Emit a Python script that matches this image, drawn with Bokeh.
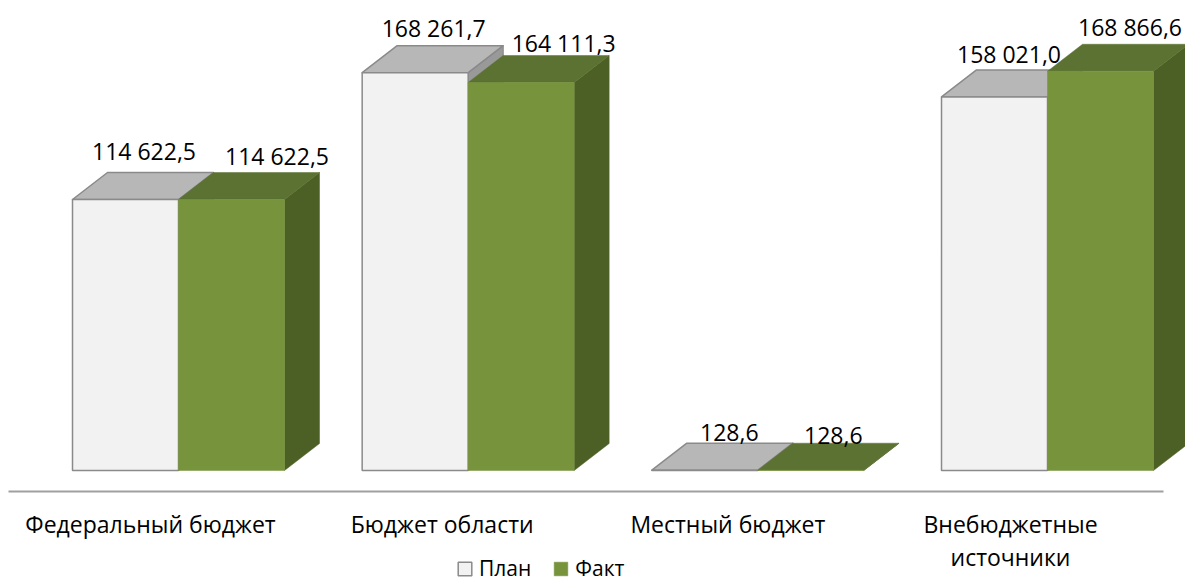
import numpy as np
from bokeh.plotting import figure
from bokeh.models import ColumnDataSource, Range1d, Legend, LegendItem
from bokeh.core.properties import value
from bokeh.embed import file_html
from bokeh.resources import INLINE

# ---------------- data ----------------
categories = ["Федеральный бюджет", "Бюджет области", "Местный бюджет", "Внебюджетные\nисточники"]
plan = [114622.5, 168261.7, 128.6, 158021.0]
fact = [114622.5, 164111.3, 128.6, 168866.6]
plan_labels = ["114 622,5", "168 261,7", "128,6", "158 021,0"]
fact_labels = ["114 622,5", "164 111,3", "128,6", "168 866,6"]

# ---------------- layout (pixels) ----------------
W_PX, H_PX = 1185, 582
CAT_PX = 289.67          # px between categories
CENTER0_PX = 178         # px of first category centre from the left of the frame
BASE_PX = 112            # px of the bar base above the bottom of the frame
UNITS_PER_PX = 422.96    # value units per vertical px
BAR_PX = 106
DEPTH_X_PX, DEPTH_Y_PX = 35, 27
FONT = "Open Sans"

x_start = -CENTER0_PX / CAT_PX
x_end = x_start + W_PX / CAT_PX
y_start = -BASE_PX * UNITS_PER_PX
y_end = y_start + H_PX * UNITS_PER_PX

W = BAR_PX / CAT_PX
DX = DEPTH_X_PX / CAT_PX
DY = DEPTH_Y_PX * UNITS_PER_PX

p = figure(width=W_PX, height=H_PX, x_range=Range1d(x_start, x_end), y_range=Range1d(y_start, y_end),
           output_backend="svg", toolbar_location=None, x_axis_type=None, y_axis_type=None,
           min_border=0, outline_line_color=None, background_fill_color="white")

idx = np.arange(len(categories), dtype=float)
plan_v = np.array(plan)
fact_v = np.array(fact)

def top_face(l, r, v):
    xs = [[a, b, b + DX, a + DX] for a, b in zip(l, r)]
    ys = [[h, h, h + DY, h + DY] for h in v]
    return xs, ys

def side_face(r, v):
    xs = [[b, b + DX, b + DX, b] for b in r]
    ys = [[0, DY, h + DY, h] for h in v]
    return xs, ys

PLAN_FRONT, PLAN_TOP, PLAN_SIDE, PLAN_LINE = "#F2F2F2", "#B7B7B7", "#999999", "#8A8A8A"
FACT_FRONT, FACT_TOP, FACT_SIDE = "#77933C", "#5B7232", "#4C6026"

pl, pr = idx - W, idx
fl, fr = idx, idx + W

# axis / floor line
AXIS_DROP_PX = 21
AXIS_START_PX, AXIS_END_PX = 8, 1163
p.segment(x0=[(AXIS_START_PX - CENTER0_PX) / CAT_PX], y0=[-AXIS_DROP_PX * UNITS_PER_PX],
          x1=[(AXIS_END_PX - CENTER0_PX) / CAT_PX], y1=[-AXIS_DROP_PX * UNITS_PER_PX],
          line_color="#A0A0A0", line_width=2)

# plan bars
xs, ys = side_face(pr, plan_v)
p.patches(xs, ys, fill_color=PLAN_SIDE, line_color=PLAN_LINE, line_width=1.2, line_join="round")
xs, ys = top_face(pl, pr, plan_v)
p.patches(xs, ys, fill_color=PLAN_TOP, line_color=PLAN_LINE, line_width=1.5, line_join="round")
plan_front = p.quad(left=pl, right=pr, bottom=0, top=plan_v, fill_color=PLAN_FRONT,
                    line_color=PLAN_LINE, line_width=1.5)

# fact bars
xs, ys = side_face(fr, fact_v)
p.patches(xs, ys, fill_color=FACT_SIDE, line_color=FACT_SIDE, line_width=0.5)
xs, ys = top_face(fl, fr, fact_v)
p.patches(xs, ys, fill_color=FACT_TOP, line_color=FACT_TOP, line_width=0.5)
fact_front = p.quad(left=fl, right=fr, bottom=0, top=fact_v, fill_color=FACT_FRONT,
                    line_color=FACT_FRONT, line_width=0.5)

# value labels (top face centre + small pixel nudges)
plan_dx = [1, 1, 7, -3]
plan_dy = [-21, -18, -11, -16]
fact_dx = [28, 25, 5, 12]
fact_dy = [-16, -12, -8, -17]
lab_src = ColumnDataSource(dict(
    x=list(pl + W / 2 + DX / 2) + list(fl + W / 2 + DX / 2),
    y=list(plan_v + DY) + list(fact_v + DY),
    t=plan_labels + fact_labels,
    xo=plan_dx + fact_dx,
    yo=plan_dy + fact_dy,
))
p.text(x="x", y="y", text="t", x_offset="xo", y_offset="yo", source=lab_src,
       text_font=value(FONT), text_font_size="23px", text_color="#000000",
       text_align="center", text_baseline="middle")

# category labels
cat_dx = [-28, -26, -30, -37]
cat_src = ColumnDataSource(dict(x=idx, y=np.zeros(len(idx)), t=categories, xo=cat_dx))
p.text(x="x", y="y", text="t", source=cat_src, x_offset="xo", y_offset=37,
       text_font=value(FONT), text_font_size="23px", text_color="#000000",
       text_align="center", text_baseline="top", text_line_height=1.04)

# legend
legend = Legend(items=[LegendItem(label="План", renderers=[plan_front]),
                       LegendItem(label="Факт", renderers=[fact_front])],
                orientation="horizontal", location=(456, 0),
                border_line_color=None, background_fill_alpha=0,
                label_text_font=FONT, label_text_font_size="21px", label_text_color="#000000",
                glyph_width=17, glyph_height=17, label_standoff=6, spacing=21,
                padding=0, margin=0, label_height=14)
p.add_layout(legend)

open("out.html", "w").write(file_html(p, INLINE))
